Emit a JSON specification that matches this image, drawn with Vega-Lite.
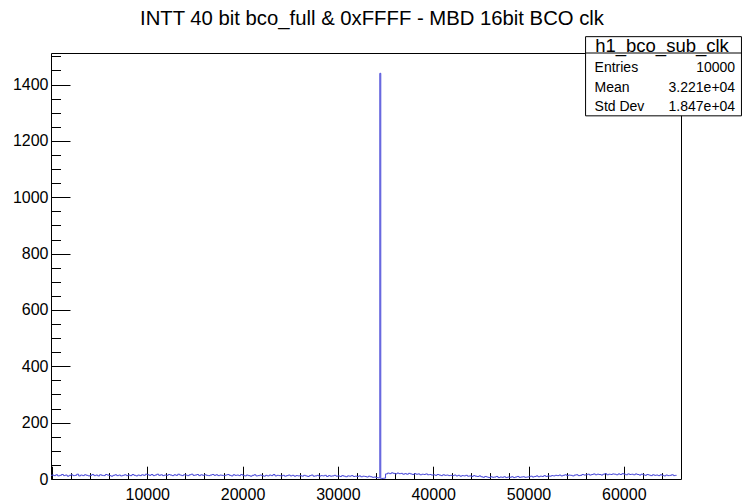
{
  "$schema": "https://vega.github.io/schema/vega-lite/v6.json",
  "width": 630,
  "height": 426,
  "autosize": {"type": "none"},
  "padding": {"left": 51, "top": 53, "right": 63, "bottom": 23},
  "background": "white",
  "config": {"view": {"stroke": "black", "strokeWidth": 1}, "font": "Liberation Sans"},
  "title": {"text": "INTT 40 bit bco_full & 0xFFFF - MBD 16bit BCO clk", "font": "Liberation Sans", "fontSize": 20.3, "fontWeight": "normal", "color": "black", "anchor": "middle", "dx": 6, "offset": 7},
  "data": {"values": [{"stat": "box"}]},
  "datasets": {
    "hist": [
      {"x":-100,"n":13},
      {"x":0,"n":14},{"x":200,"n":12},{"x":400,"n":15},{"x":600,"n":11},{"x":800,"n":13},{"x":1000,"n":16},{"x":1200,"n":12},{"x":1400,"n":14},{"x":1600,"n":10},{"x":1800,"n":13},
      {"x":2000,"n":15},{"x":2200,"n":12},{"x":2400,"n":13},{"x":2600,"n":17},{"x":2800,"n":11},{"x":3000,"n":14},{"x":3200,"n":12},{"x":3400,"n":15},{"x":3600,"n":13},{"x":3800,"n":11},
      {"x":4000,"n":13},{"x":4200,"n":16},{"x":4400,"n":12},{"x":4600,"n":14},{"x":4800,"n":11},{"x":5000,"n":15},{"x":5200,"n":13},{"x":5400,"n":12},{"x":5600,"n":16},{"x":5800,"n":14},
      {"x":6000,"n":12},{"x":6200,"n":10},{"x":6400,"n":13},{"x":6600,"n":15},{"x":6800,"n":12},{"x":7000,"n":14},{"x":7200,"n":11},{"x":7400,"n":13},{"x":7600,"n":15},{"x":7800,"n":12},
      {"x":8000,"n":14},{"x":8200,"n":12},{"x":8400,"n":16},{"x":8600,"n":13},{"x":8800,"n":11},{"x":9000,"n":14},{"x":9200,"n":12},{"x":9400,"n":15},{"x":9600,"n":13},{"x":9800,"n":17},
      {"x":10000,"n":15},{"x":10200,"n":13},{"x":10400,"n":16},{"x":10600,"n":12},{"x":10800,"n":14},{"x":11000,"n":17},{"x":11200,"n":13},{"x":11400,"n":15},{"x":11600,"n":12},{"x":11800,"n":14},
      {"x":12000,"n":13},{"x":12200,"n":16},{"x":12400,"n":14},{"x":12600,"n":12},{"x":12800,"n":15},{"x":13000,"n":13},{"x":13200,"n":17},{"x":13400,"n":14},{"x":13600,"n":12},{"x":13800,"n":15},
      {"x":14000,"n":14},{"x":14200,"n":12},{"x":14400,"n":15},{"x":14600,"n":17},{"x":14800,"n":13},{"x":15000,"n":14},{"x":15200,"n":16},{"x":15400,"n":12},{"x":15600,"n":15},{"x":15800,"n":13},
      {"x":16000,"n":15},{"x":16200,"n":13},{"x":16400,"n":12},{"x":16600,"n":14},{"x":16800,"n":16},{"x":17000,"n":13},{"x":17200,"n":15},{"x":17400,"n":12},{"x":17600,"n":14},{"x":17800,"n":13},
      {"x":18000,"n":12},{"x":18200,"n":14},{"x":18400,"n":16},{"x":18600,"n":13},{"x":18800,"n":11},{"x":19000,"n":15},{"x":19200,"n":13},{"x":19400,"n":14},{"x":19600,"n":12},{"x":19800,"n":16},
      {"x":20000,"n":13},{"x":20200,"n":11},{"x":20400,"n":14},{"x":20600,"n":12},{"x":20800,"n":10},{"x":21000,"n":13},{"x":21200,"n":15},{"x":21400,"n":11},{"x":21600,"n":12},{"x":21800,"n":14},
      {"x":22000,"n":12},{"x":22200,"n":10},{"x":22400,"n":13},{"x":22600,"n":11},{"x":22800,"n":14},{"x":23000,"n":12},{"x":23200,"n":16},{"x":23400,"n":11},{"x":23600,"n":13},{"x":23800,"n":12},
      {"x":24000,"n":11},{"x":24200,"n":13},{"x":24400,"n":10},{"x":24600,"n":12},{"x":24800,"n":14},{"x":25000,"n":11},{"x":25200,"n":13},{"x":25400,"n":10},{"x":25600,"n":12},{"x":25800,"n":11},
      {"x":26000,"n":12},{"x":26200,"n":10},{"x":26400,"n":13},{"x":26600,"n":11},{"x":26800,"n":9},{"x":27000,"n":12},{"x":27200,"n":14},{"x":27400,"n":10},{"x":27600,"n":11},{"x":27800,"n":13},
      {"x":28000,"n":10},{"x":28200,"n":12},{"x":28400,"n":11},{"x":28600,"n":13},{"x":28800,"n":9},{"x":29000,"n":12},{"x":29200,"n":10},{"x":29400,"n":11},{"x":29600,"n":13},{"x":29800,"n":10},
      {"x":30000,"n":11},{"x":30200,"n":9},{"x":30400,"n":12},{"x":30600,"n":10},{"x":30800,"n":8},{"x":31000,"n":11},{"x":31200,"n":10},{"x":31400,"n":12},{"x":31600,"n":9},{"x":31800,"n":10},
      {"x":32000,"n":9},{"x":32200,"n":11},{"x":32400,"n":8},{"x":32600,"n":10},{"x":32800,"n":9},{"x":33000,"n":7},{"x":33200,"n":10},{"x":33400,"n":8},{"x":33600,"n":6},{"x":33800,"n":7},
      {"x":34000,"n":5},{"x":34200,"n":4},
      {"x":34400,"n":1440},{"x":34500,"n":1},{"x":34600,"n":2},{"x":34800,"n":3},
      {"x":35000,"n":18},{"x":35200,"n":21},{"x":35400,"n":19},{"x":35600,"n":22},{"x":35800,"n":20},{"x":36000,"n":18},{"x":36200,"n":21},{"x":36400,"n":19},{"x":36600,"n":20},{"x":36800,"n":17},
      {"x":37000,"n":19},{"x":37200,"n":17},{"x":37400,"n":20},{"x":37600,"n":18},{"x":37800,"n":16},{"x":38000,"n":19},{"x":38200,"n":17},{"x":38400,"n":18},{"x":38600,"n":15},{"x":38800,"n":17},
      {"x":39000,"n":16},{"x":39200,"n":18},{"x":39400,"n":15},{"x":39600,"n":16},{"x":39800,"n":14},
      {"x":40000,"n":15},{"x":40200,"n":13},{"x":40400,"n":16},{"x":40600,"n":14},{"x":40800,"n":12},{"x":41000,"n":15},{"x":41200,"n":13},{"x":41400,"n":14},{"x":41600,"n":12},{"x":41800,"n":13},
      {"x":42000,"n":12},{"x":42200,"n":14},{"x":42400,"n":11},{"x":42600,"n":13},{"x":42800,"n":10},{"x":43000,"n":12},{"x":43200,"n":11},{"x":43400,"n":13},{"x":43600,"n":10},{"x":43800,"n":11},
      {"x":44000,"n":9},{"x":44200,"n":12},{"x":44400,"n":10},{"x":44600,"n":9},{"x":44800,"n":11},
      {"x":45000,"n":8},{"x":45200,"n":6},{"x":45400,"n":9},{"x":45600,"n":7},{"x":45800,"n":5},{"x":46000,"n":8},{"x":46200,"n":6},{"x":46400,"n":7},{"x":46600,"n":9},{"x":46800,"n":5},
      {"x":47000,"n":7},{"x":47200,"n":6},{"x":47400,"n":8},{"x":47600,"n":5},{"x":47800,"n":7},
      {"x":48000,"n":6},{"x":48200,"n":8},{"x":48400,"n":5},{"x":48600,"n":7},{"x":48800,"n":9},{"x":49000,"n":6},{"x":49200,"n":7},{"x":49400,"n":8},{"x":49600,"n":6},{"x":49800,"n":7},
      {"x":50000,"n":8},{"x":50200,"n":10},{"x":50400,"n":7},{"x":50600,"n":9},{"x":50800,"n":11},{"x":51000,"n":8},{"x":51200,"n":10},{"x":51400,"n":9},{"x":51600,"n":12},{"x":51800,"n":9},
      {"x":52000,"n":11},{"x":52200,"n":10},{"x":52400,"n":12},{"x":52600,"n":11},{"x":52800,"n":13},
      {"x":53000,"n":12},{"x":53200,"n":14},{"x":53400,"n":11},{"x":53600,"n":13},{"x":53800,"n":15},{"x":54000,"n":12},{"x":54200,"n":14},{"x":54400,"n":13},{"x":54600,"n":11},{"x":54800,"n":14},
      {"x":55000,"n":15},{"x":55200,"n":12},{"x":55400,"n":13},{"x":55600,"n":16},{"x":55800,"n":14},
      {"x":56000,"n":15},{"x":56200,"n":17},{"x":56400,"n":14},{"x":56600,"n":16},{"x":56800,"n":18},{"x":57000,"n":15},{"x":57200,"n":17},{"x":57400,"n":16},{"x":57600,"n":14},{"x":57800,"n":17},
      {"x":58000,"n":19},{"x":58200,"n":15},{"x":58400,"n":17},{"x":58600,"n":16},{"x":58800,"n":18},
      {"x":59000,"n":17},{"x":59200,"n":15},{"x":59400,"n":18},{"x":59600,"n":16},{"x":59800,"n":19},{"x":60000,"n":17},{"x":60200,"n":15},{"x":60400,"n":18},{"x":60600,"n":16},{"x":60800,"n":17},
      {"x":61000,"n":15},{"x":61200,"n":18},{"x":61400,"n":16},{"x":61600,"n":14},{"x":61800,"n":17},
      {"x":62000,"n":15},{"x":62200,"n":13},{"x":62400,"n":16},{"x":62600,"n":14},{"x":62800,"n":12},{"x":63000,"n":15},{"x":63200,"n":13},{"x":63400,"n":14},{"x":63600,"n":12},{"x":63800,"n":15},
      {"x":64000,"n":13},{"x":64200,"n":11},{"x":64400,"n":14},{"x":64600,"n":12},{"x":64800,"n":13},{"x":65000,"n":15},{"x":65200,"n":12},{"x":65400,"n":13},{"x":65536,"n":13}
    ]
  },
  "resolve": {"axis": {"x": "independent", "y": "independent"}},
  "layer": [
    {
      "data": {"name": "hist"},
      "mark": {"type": "line", "interpolate": "step-after", "color": "#4848d8", "strokeWidth": 1},
      "encoding": {
        "x": {"field": "x", "type": "quantitative", "scale": {"domain": [-100, 66000], "nice": false, "zero": false},
          "axis": {"orient": "bottom", "values": [10000, 20000, 30000, 40000, 50000, 60000], "ticks": false, "domain": false, "grid": false, "title": null, "labelFont": "Liberation Sans", "labelFontSize": 16, "labelColor": "black", "labelPadding": 7, "labelFlush": false, "format": "d"}},
        "y": {"field": "n", "type": "quantitative", "scale": {"domain": [0, 1512], "nice": false, "zero": false},
          "axis": {"orient": "left", "values": [0, 200, 400, 600, 800, 1000, 1200, 1400], "ticks": false, "domain": false, "grid": false, "title": null, "labelFont": "Liberation Sans", "labelFontSize": 16, "labelColor": "black", "labelPadding": 3, "format": "d"}}
      }
    },
    {
      "mark": {"type": "point", "opacity": 0},
      "encoding": {
        "x": {"datum": 0, "type": "quantitative", "scale": {"domain": [-100, 66000], "nice": false, "zero": false},
          "axis": {"orient": "bottom", "values": [0, 10000, 20000, 30000, 40000, 50000, 60000], "labels": false, "domain": false, "grid": false, "title": null, "tickSize": -12.8, "tickColor": "black", "tickWidth": 1}},
        "y": {"datum": 0, "type": "quantitative", "scale": {"domain": [0, 1512], "nice": false, "zero": false},
          "axis": {"orient": "left", "values": [0, 200, 400, 600, 800, 1000, 1200, 1400], "labels": false, "domain": false, "grid": false, "title": null, "tickSize": -19, "tickColor": "black", "tickWidth": 1}}
      }
    },
    {
      "mark": {"type": "point", "opacity": 0},
      "encoding": {
        "x": {"datum": 0, "type": "quantitative", "scale": {"domain": [-100, 66000], "nice": false, "zero": false},
          "axis": {"orient": "bottom", "values": [2000, 4000, 6000, 8000, 12000, 14000, 16000, 18000, 22000, 24000, 26000, 28000, 32000, 34000, 36000, 38000, 42000, 44000, 46000, 48000, 52000, 54000, 56000, 58000, 62000, 64000], "labels": false, "domain": false, "grid": false, "title": null, "tickSize": -6.4, "tickColor": "black", "tickWidth": 1}},
        "y": {"datum": 0, "type": "quantitative", "scale": {"domain": [0, 1512], "nice": false, "zero": false},
          "axis": {"orient": "left", "values": [50, 100, 150, 250, 300, 350, 450, 500, 550, 650, 700, 750, 850, 900, 950, 1050, 1100, 1150, 1250, 1300, 1350, 1450, 1500], "labels": false, "domain": false, "grid": false, "title": null, "tickSize": -9.5, "tickColor": "black", "tickWidth": 1}}
      }
    },
    {
      "mark": {"type": "rect", "fill": "white", "stroke": "black", "strokeWidth": 1},
      "encoding": {
        "x": {"datum": 55988, "type": "quantitative", "scale": {"domain": [-100, 66000], "nice": false, "zero": false}, "axis": null},
        "x2": {"datum": 72343},
        "y": {"datum": 1570, "type": "quantitative", "scale": {"domain": [0, 1512], "nice": false, "zero": false}, "axis": null},
        "y2": {"datum": 1289}
      }
    },
    {
      "mark": {"type": "rule", "color": "black", "strokeWidth": 1},
      "encoding": {
        "x": {"datum": 55988, "type": "quantitative", "scale": {"domain": [-100, 66000], "nice": false, "zero": false}, "axis": null},
        "x2": {"datum": 72343},
        "y": {"datum": 1512, "type": "quantitative", "scale": {"domain": [0, 1512], "nice": false, "zero": false}, "axis": null}
      }
    },
    {
      "mark": {"type": "text", "text": "h1_bco_sub_clk", "font": "Liberation Sans", "fontSize": 18.5, "align": "center", "baseline": "middle", "color": "black"},
      "encoding": {
        "x": {"datum": 64008, "type": "quantitative", "scale": {"domain": [-100, 66000], "nice": false, "zero": false}, "axis": null},
        "y": {"datum": 1537, "type": "quantitative", "scale": {"domain": [0, 1512], "nice": false, "zero": false}, "axis": null}
      }
    },
    {
      "mark": {"type": "text", "text": "Entries", "font": "Liberation Sans", "fontSize": 14, "align": "left", "baseline": "middle", "color": "black"},
      "encoding": {
        "x": {"datum": 56932, "type": "quantitative", "scale": {"domain": [-100, 66000], "nice": false, "zero": false}, "axis": null},
        "y": {"datum": 1458, "type": "quantitative", "scale": {"domain": [0, 1512], "nice": false, "zero": false}, "axis": null}
      }
    },
    {
      "mark": {"type": "text", "text": "10000", "font": "Liberation Sans", "fontSize": 14, "align": "right", "baseline": "middle", "color": "black"},
      "encoding": {
        "x": {"datum": 71683, "type": "quantitative", "scale": {"domain": [-100, 66000], "nice": false, "zero": false}, "axis": null},
        "y": {"datum": 1458, "type": "quantitative", "scale": {"domain": [0, 1512], "nice": false, "zero": false}, "axis": null}
      }
    },
    {
      "mark": {"type": "text", "text": "Mean", "font": "Liberation Sans", "fontSize": 14, "align": "left", "baseline": "middle", "color": "black"},
      "encoding": {
        "x": {"datum": 56932, "type": "quantitative", "scale": {"domain": [-100, 66000], "nice": false, "zero": false}, "axis": null},
        "y": {"datum": 1387, "type": "quantitative", "scale": {"domain": [0, 1512], "nice": false, "zero": false}, "axis": null}
      }
    },
    {
      "mark": {"type": "text", "text": "3.221e+04", "font": "Liberation Sans", "fontSize": 14, "align": "right", "baseline": "middle", "color": "black"},
      "encoding": {
        "x": {"datum": 71683, "type": "quantitative", "scale": {"domain": [-100, 66000], "nice": false, "zero": false}, "axis": null},
        "y": {"datum": 1387, "type": "quantitative", "scale": {"domain": [0, 1512], "nice": false, "zero": false}, "axis": null}
      }
    },
    {
      "mark": {"type": "text", "text": "Std Dev", "font": "Liberation Sans", "fontSize": 14, "align": "left", "baseline": "middle", "color": "black"},
      "encoding": {
        "x": {"datum": 56932, "type": "quantitative", "scale": {"domain": [-100, 66000], "nice": false, "zero": false}, "axis": null},
        "y": {"datum": 1321, "type": "quantitative", "scale": {"domain": [0, 1512], "nice": false, "zero": false}, "axis": null}
      }
    },
    {
      "mark": {"type": "text", "text": "1.847e+04", "font": "Liberation Sans", "fontSize": 14, "align": "right", "baseline": "middle", "color": "black"},
      "encoding": {
        "x": {"datum": 71683, "type": "quantitative", "scale": {"domain": [-100, 66000], "nice": false, "zero": false}, "axis": null},
        "y": {"datum": 1321, "type": "quantitative", "scale": {"domain": [0, 1512], "nice": false, "zero": false}, "axis": null}
      }
    }
  ]
}
